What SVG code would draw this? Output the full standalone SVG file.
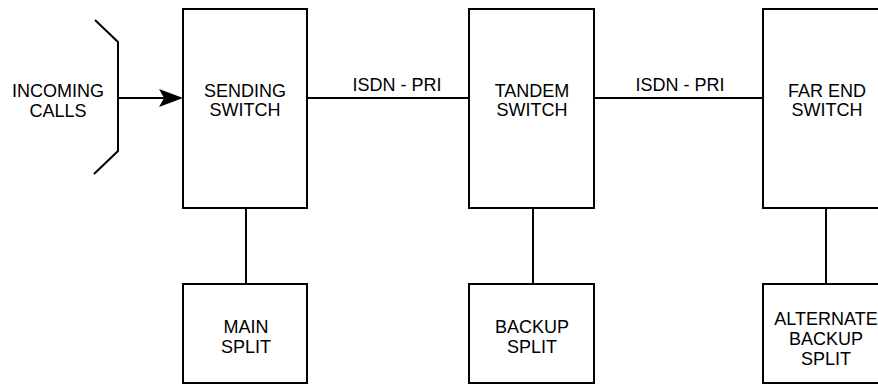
<svg xmlns="http://www.w3.org/2000/svg" width="878" height="384" viewBox="0 0 878 384">
<style>
.box{fill:#fff;stroke:#000;stroke-width:2}
.ln{fill:none;stroke:#000;stroke-width:2}
text{font-family:"Liberation Sans",Arial,sans-serif;font-size:18px;fill:#000;text-anchor:middle}
</style>
<rect width="878" height="384" fill="#fff"/>
<g id="connectors">
<polyline class="ln" points="95,20 118,42 118,151 94,174"/>
<line class="ln" x1="118" y1="98" x2="166" y2="98"/>
<path d="M183,98 L159,89 L164,98 L159,107 Z" fill="#000"/>
<line class="ln" x1="307" y1="98" x2="469" y2="98"/>
<line class="ln" x1="594" y1="98" x2="763" y2="98"/>
<line class="ln" x1="246" y1="208" x2="246" y2="284"/>
<line class="ln" x1="533" y1="208" x2="533" y2="284"/>
<line class="ln" x1="826" y1="208" x2="826" y2="284"/>
<text x="397" y="91">ISDN - PRI</text>
<text x="680" y="91">ISDN - PRI</text>
</g>
<g id="incoming">
<text x="58" y="97">INCOMING</text>
<text x="58" y="117">CALLS</text>
</g>
<g id="sending-switch">
<rect class="box" x="183" y="9" width="124" height="199"/>
<text x="245" y="97">SENDING</text>
<text x="245" y="116">SWITCH</text>
</g>
<g id="tandem-switch">
<rect class="box" x="469" y="9" width="125" height="199"/>
<text x="532" y="97">TANDEM</text>
<text x="532" y="116">SWITCH</text>
</g>
<g id="far-end-switch">
<rect class="box" x="763" y="9" width="126" height="199"/>
<text x="827" y="97">FAR END</text>
<text x="827" y="116">SWITCH</text>
</g>
<g id="main-split">
<rect class="box" x="183" y="284" width="124" height="99"/>
<text x="246" y="333">MAIN</text>
<text x="246" y="353">SPLIT</text>
</g>
<g id="backup-split">
<rect class="box" x="469" y="284" width="125" height="99"/>
<text x="532" y="333">BACKUP</text>
<text x="532" y="353">SPLIT</text>
</g>
<g id="alternate-backup-split">
<rect class="box" x="763" y="284" width="126" height="99"/>
<text x="826" y="325">ALTERNATE</text>
<text x="826" y="345">BACKUP</text>
<text x="826" y="365">SPLIT</text>
</g>
</svg>
